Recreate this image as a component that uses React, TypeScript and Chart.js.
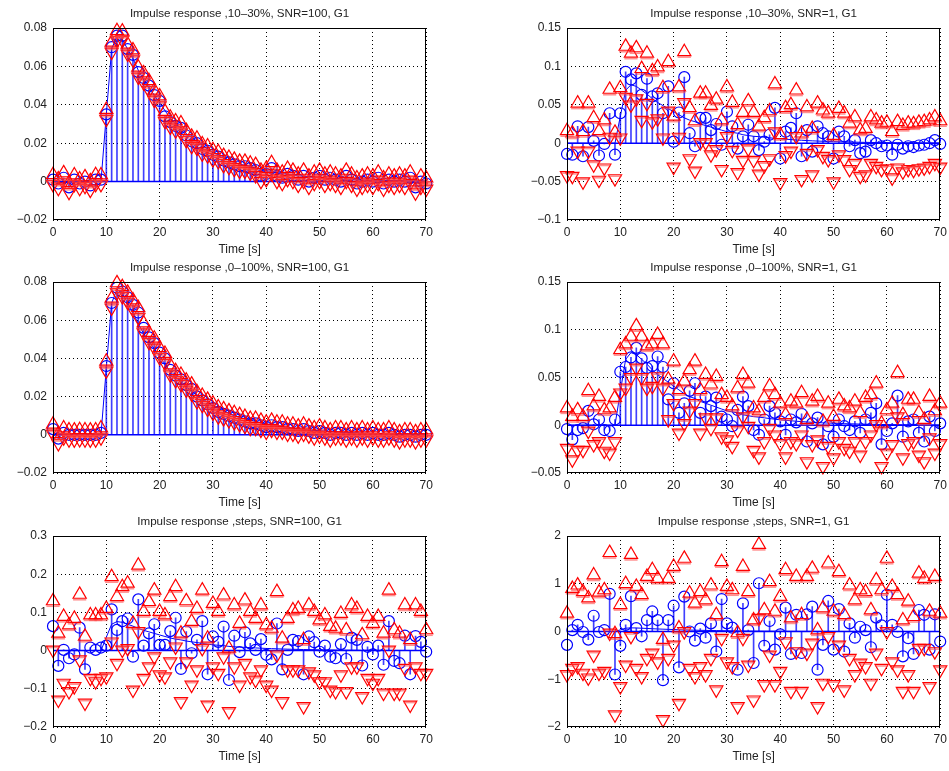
import React, { useEffect, useRef } from 'react';
import { Chart, registerables } from 'chart.js';

Chart.register(...registerables);

// ---------- data ----------
const times: number[] = Array.from({ length: 71 }, (_, i) => i);

// true (smooth) impulse response, same in every panel
const trueResp = [
  0, 0, 0, 0, 0, 0, 0, 0, 0, 0,
  0.035, 0.069, 0.076, 0.074, 0.069, 0.064, 0.058, 0.053, 0.049, 0.045,
  0.041, 0.037, 0.033, 0.030, 0.028, 0.025, 0.023, 0.021, 0.019, 0.017,
  0.015, 0.014, 0.013, 0.011, 0.010, 0.009, 0.0085, 0.0078, 0.007, 0.0063,
  0.0057, 0.0052, 0.0047, 0.0042, 0.0038, 0.0034, 0.0031, 0.0028, 0.0025, 0.0023,
  0.0021, 0.0019, 0.0017, 0.0015, 0.0014, 0.0012, 0.0011, 0.0010, 0.0009, 0.0008,
  0.0007, 0.0006, 0.0006, 0.0005, 0.0005, 0.0004, 0.0004, 0.0003, 0.0003, 0.0003,
  0.0002,
];

// Panel 1: 10-30%, SNR=100
const estTL = [
  0.001, -0.001, 0.002, -0.003, 0.001, -0.001, 0.000, -0.002, 0.001, 0.001,
  0.035, 0.070, 0.076, 0.076, 0.069, 0.066, 0.057, 0.054, 0.050, 0.045,
  0.042, 0.034, 0.031, 0.029, 0.028, 0.024, 0.021, 0.020, 0.017, 0.016,
  0.014, 0.013, 0.011, 0.010, 0.009, 0.008, 0.008, 0.007, 0.006, 0.003,
  0.004, 0.007, 0.003, 0.002, 0.004, 0.003, 0.001, 0.003, 0.000, 0.002,
  0.003, 0.001, 0.002, 0.001, 0.000, 0.003, 0.001, -0.001, 0.000, 0.001,
  0.000, 0.002, -0.001, 0.001, 0.000, 0.001, 0.000, 0.002, -0.003, 0.000,
  -0.001,
];
const upTL = [
  0.0035, 0.0013, 0.0045, -0.0005, 0.0034, 0.0013, 0.0024, 0.0003, 0.0035, 0.0034,
  0.0375, 0.0725, 0.0785, 0.0783, 0.0715, 0.0685, 0.0595, 0.0565, 0.0525, 0.0475,
  0.0445, 0.0365, 0.0335, 0.0315, 0.0305, 0.0265, 0.0235, 0.0225, 0.0195, 0.0185,
  0.0165, 0.0155, 0.0135, 0.0125, 0.0115, 0.0105, 0.0105, 0.0095, 0.0088, 0.0058,
  0.0068, 0.0098, 0.0058, 0.0048, 0.0068, 0.0058, 0.0038, 0.0058, 0.0028, 0.0048,
  0.0058, 0.0038, 0.0048, 0.0038, 0.0028, 0.0058, 0.0038, 0.0018, 0.0028, 0.0038,
  0.0028, 0.0048, 0.0018, 0.0038, 0.0028, 0.0038, 0.0028, 0.0048, -0.0002, 0.0028,
  0.0018,
];
const loTL = [
  -0.0014, -0.0034, -0.0005, -0.0055, -0.0014, -0.0034, -0.0024, -0.0044, -0.0014, -0.0014,
  0.0325, 0.0675, 0.0735, 0.0737, 0.0665, 0.0635, 0.0545, 0.0515, 0.0475, 0.0425,
  0.0395, 0.0315, 0.0285, 0.0265, 0.0255, 0.0215, 0.0185, 0.0175, 0.0145, 0.0135,
  0.0115, 0.0105, 0.0085, 0.0075, 0.0065, 0.0055, 0.0055, 0.0045, 0.0032, 0.0002,
  0.0012, 0.0042, 0.0002, -0.0008, 0.0012, 0.0002, -0.0018, 0.0002, -0.0028, -0.0008,
  0.0002, -0.0018, -0.0008, -0.0018, -0.0028, 0.0002, -0.0018, -0.0038, -0.0028, -0.0018,
  -0.0028, -0.0008, -0.0038, -0.0018, -0.0028, -0.0018, -0.0028, -0.0008, -0.0058, -0.0028,
  -0.0038,
];

// Panel 2: 10-30%, SNR=1
const estTR = [
  -0.014, -0.015, 0.022, -0.017, 0.021, 0.003, -0.016, -0.001, 0.039, -0.015,
  0.039, 0.093, 0.083, 0.091, 0.063, 0.084, 0.061, 0.065, 0.039, 0.074,
  0.002, 0.040, 0.086, 0.013, -0.004, 0.033, 0.033, 0.017, 0.025, -0.002,
  0.041, 0.022, -0.007, 0.009, 0.024, 0.009, -0.009, 0.002, 0.011, 0.046,
  -0.020, 0.015, 0.020, 0.039, -0.017, 0.017, -0.011, 0.022, 0.013, 0.009,
  -0.020, 0.015, 0.009, -0.004, 0.004, -0.013, -0.011, 0.004, 0.000, -0.004,
  -0.003, -0.015, -0.002, -0.007, -0.004, -0.005, -0.003, -0.002, 0.000, 0.004,
  -0.001,
];
const upTR = [
  0.016, 0.013, 0.052, 0.015, 0.052, 0.033, 0.016, 0.030, 0.070, 0.014,
  0.072, 0.126, 0.117, 0.124, 0.097, 0.117, 0.094, 0.099, 0.072, 0.106,
  0.035, 0.073, 0.119, 0.046, 0.029, 0.065, 0.065, 0.049, 0.057, 0.030,
  0.073, 0.053, 0.024, 0.040, 0.055, 0.040, 0.022, 0.033, 0.042, 0.077,
  0.011, 0.046, 0.050, 0.069, 0.013, 0.047, 0.019, 0.052, 0.043, 0.039,
  0.010, 0.045, 0.039, 0.026, 0.034, 0.017, 0.019, 0.034, 0.030, 0.026,
  0.027, 0.015, 0.028, 0.023, 0.026, 0.025, 0.027, 0.028, 0.030, 0.034,
  0.029,
];
const loTR = [
  -0.042, -0.043, -0.010, -0.050, -0.010, -0.028, -0.048, -0.032, 0.008, -0.046,
  0.007, 0.060, 0.050, 0.058, 0.030, 0.052, 0.028, 0.032, 0.007, 0.042,
  -0.031, 0.008, 0.053, -0.020, -0.036, 0.001, 0.001, -0.015, -0.008, -0.034,
  0.009, -0.009, -0.038, -0.022, -0.007, -0.022, -0.040, -0.029, -0.020, 0.015,
  -0.051, -0.016, -0.010, 0.009, -0.047, -0.013, -0.041, -0.008, -0.017, -0.021,
  -0.050, -0.015, -0.021, -0.034, -0.026, -0.043, -0.041, -0.026, -0.030, -0.034,
  -0.033, -0.045, -0.032, -0.037, -0.034, -0.035, -0.033, -0.032, -0.030, -0.026,
  -0.031,
];

// Panel 3: 0-100%, SNR=100
const estML = [
  0.003, -0.002, 0.001, 0.000, 0.000, 0.000, 0.000, 0.000, 0.000, 0.001,
  0.036, 0.069, 0.077, 0.075, 0.072, 0.068, 0.064, 0.056, 0.051, 0.048,
  0.043, 0.040, 0.034, 0.031, 0.029, 0.026, 0.024, 0.020, 0.018, 0.016,
  0.014, 0.012, 0.011, 0.010, 0.009, 0.008, 0.007, 0.006, 0.006, 0.005,
  0.004, 0.005, 0.004, 0.004, 0.003, 0.003, 0.002, 0.003, 0.002, 0.001,
  0.002, 0.001, 0.000, 0.001, 0.001, 0.000, 0.001, 0.000, 0.001, 0.000,
  0.001, 0.000, 0.000, 0.001, 0.000, -0.001, 0.000, 0.000, -0.001, 0.000,
  0.000,
];
const upML = [
  0.0055, 0.0005, 0.0035, 0.0025, 0.0024, 0.0026, 0.0025, 0.0024, 0.0025, 0.0035,
  0.0385, 0.0715, 0.0795, 0.0775, 0.0745, 0.0705, 0.0665, 0.0585, 0.0535, 0.0505,
  0.0455, 0.0425, 0.0365, 0.0335, 0.0315, 0.0285, 0.0265, 0.0225, 0.0205, 0.0185,
  0.0165, 0.0145, 0.0135, 0.0125, 0.0115, 0.0105, 0.0095, 0.0085, 0.0085, 0.0075,
  0.0065, 0.0075, 0.0065, 0.0065, 0.0055, 0.0055, 0.0045, 0.0055, 0.0045, 0.0035,
  0.0045, 0.0035, 0.0025, 0.0035, 0.0035, 0.0025, 0.0035, 0.0025, 0.0035, 0.0025,
  0.0035, 0.0025, 0.0025, 0.0035, 0.0025, 0.0015, 0.0025, 0.0025, 0.0015, 0.0025,
  0.0025,
];
const loML = [
  0.0005, -0.0045, -0.0015, -0.0025, -0.0026, -0.0024, -0.0025, -0.0026, -0.0025, -0.0015,
  0.0335, 0.0665, 0.0745, 0.0725, 0.0695, 0.0655, 0.0615, 0.0535, 0.0485, 0.0455,
  0.0405, 0.0375, 0.0315, 0.0285, 0.0265, 0.0235, 0.0215, 0.0175, 0.0155, 0.0135,
  0.0115, 0.0095, 0.0085, 0.0075, 0.0065, 0.0055, 0.0045, 0.0035, 0.0035, 0.0025,
  0.0015, 0.0025, 0.0015, 0.0015, 0.0005, 0.0005, -0.0005, 0.0005, -0.0005, -0.0015,
  -0.0005, -0.0015, -0.0025, -0.0015, -0.0015, -0.0025, -0.0015, -0.0025, -0.0015, -0.0025,
  -0.0015, -0.0025, -0.0025, -0.0015, -0.0025, -0.0035, -0.0025, -0.0025, -0.0035, -0.0025,
  -0.0025,
];

// Panel 4: 0-100%, SNR=1
const estMR = [
  -0.004, -0.015, -0.005, -0.003, 0.015, 0.001, 0.006, -0.005, -0.006, 0.006,
  0.056, 0.061, 0.071, 0.081, 0.070, 0.060, 0.062, 0.072, 0.061, 0.027,
  0.044, 0.013, 0.023, 0.036, 0.044, 0.013, 0.030, 0.020, 0.029, 0.009,
  0.006, -0.001, 0.016, 0.030, 0.020, -0.005, -0.010, 0.006, 0.020, 0.013,
  0.004, -0.010, 0.006, 0.003, 0.012, -0.017, 0.002, 0.008, -0.020, -0.001,
  -0.012, 0.006, -0.001, -0.005, 0.004, -0.008, 0.006, 0.013, 0.023, -0.020,
  -0.006, 0.002, 0.031, -0.012, 0.004, 0.006, -0.008, -0.017, 0.009, -0.006,
  0.002,
];
const upMR = [
  0.018, 0.009, 0.016, 0.009, 0.036, 0.020, 0.030, 0.016, 0.018, 0.029,
  0.079, 0.085, 0.093, 0.104, 0.093, 0.083, 0.085, 0.095, 0.085, 0.048,
  0.067, 0.037, 0.046, 0.058, 0.067, 0.037, 0.053, 0.043, 0.051, 0.032,
  0.029, 0.020, 0.039, 0.053, 0.044, 0.018, 0.015, 0.029, 0.041, 0.032,
  0.023, 0.011, 0.025, 0.023, 0.034, 0.006, 0.025, 0.030, 0.004, 0.023,
  0.009, 0.027, 0.020, 0.018, 0.025, 0.013, 0.029, 0.032, 0.044, 0.002,
  0.016, 0.023, 0.055, 0.011, 0.027, 0.027, 0.013, 0.006, 0.030, 0.015,
  0.023,
];
const loMR = [
  -0.024, -0.036, -0.026, -0.026, -0.006, -0.020, -0.017, -0.027, -0.029, -0.017,
  0.034, 0.039, 0.050, 0.060, 0.050, 0.039, 0.041, 0.051, 0.039, 0.006,
  0.023, -0.008, 0.002, 0.015, 0.023, -0.008, 0.008, -0.003, 0.008, -0.012,
  -0.015, -0.022, -0.005, 0.009, -0.001, -0.026, -0.033, -0.017, -0.003, -0.010,
  -0.019, -0.033, -0.017, -0.019, -0.010, -0.038, -0.020, -0.015, -0.043, -0.022,
  -0.034, -0.017, -0.024, -0.027, -0.017, -0.031, -0.017, -0.010, 0.001, -0.043,
  -0.029, -0.020, 0.009, -0.034, -0.019, -0.017, -0.031, -0.038, -0.013, -0.029,
  -0.019,
];

// Panel 5: steps, SNR=100
const estBL = [
  0.064, -0.040, 0.002, -0.020, -0.010, 0.060, -0.049, 0.008, 0.002, 0.008,
  0.013, 0.108, 0.054, 0.077, 0.084, -0.016, 0.134, 0.013, 0.045, 0.069,
  0.015, 0.015, 0.051, 0.086, -0.048, 0.050, -0.007, 0.028, 0.077, -0.062,
  0.037, 0.023, 0.063, -0.077, 0.039, -0.004, 0.048, 0.019, 0.002, 0.030,
  -0.011, -0.023, 0.071, -0.049, 0.002, 0.028, 0.025, -0.062, 0.037, 0.022,
  -0.003, 0.013, -0.016, -0.020, 0.017, -0.022, 0.034, 0.028, -0.039, 0.010,
  -0.010, 0.013, -0.037, 0.077, -0.027, -0.033, 0.039, -0.062, 0.038, 0.023,
  -0.003,
];
const upBL = [
  0.130, 0.045, 0.089, 0.067, 0.084, 0.147, 0.037, 0.093, 0.093, 0.093,
  0.110, 0.193, 0.141, 0.167, 0.176, 0.071, 0.223, 0.102, 0.128, 0.158,
  0.102, 0.093, 0.141, 0.167, 0.045, 0.130, 0.076, 0.110, 0.158, 0.032,
  0.123, 0.102, 0.145, 0.006, 0.119, 0.071, 0.132, 0.102, 0.084, 0.119,
  0.067, 0.058, 0.154, 0.032, 0.084, 0.106, 0.110, 0.028, 0.119, 0.102,
  0.080, 0.093, 0.063, 0.058, 0.097, 0.054, 0.119, 0.110, 0.041, 0.089,
  0.071, 0.089, 0.045, 0.158, 0.054, 0.045, 0.119, 0.028, 0.119, 0.102,
  0.054,
];
const loBL = [
  0.002, -0.129, -0.085, -0.107, -0.094, -0.024, -0.137, -0.072, -0.081, -0.072,
  -0.068, 0.023, -0.033, 0.002, 0.006, -0.103, 0.050, -0.072, -0.042, -0.016,
  -0.063, -0.068, -0.029, 0.010, -0.133, -0.029, -0.090, -0.050, 0.006, -0.142,
  -0.042, -0.059, -0.016, -0.159, -0.042, -0.090, -0.033, -0.068, -0.077, -0.050,
  -0.090, -0.103, -0.011, -0.133, -0.050, -0.050, -0.050, -0.146, -0.055, -0.063,
  -0.081, -0.081, -0.103, -0.107, -0.063, -0.107, -0.042, -0.042, -0.120, -0.072,
  -0.085, -0.072, -0.111, 0.002, -0.111, -0.111, -0.046, -0.142, -0.042, -0.059,
  -0.059,
];

// Panel 6: steps, SNR=1
const estBR = [
  -0.28, 0.03, 0.14, -0.01, -0.17, 0.33, -0.01, 0.03, 0.79, -0.90,
  -0.30, 0.14, 0.74, 0.07, -0.10, 0.24, 0.42, 0.24, -1.02, 0.24,
  0.54, -0.75, 0.73, 0.00, -0.19, 0.06, -0.13, 0.17, -0.42, 0.68,
  0.17, 0.08, -0.80, 0.59, 0.03, -0.66, 1.01, -0.30, 0.22, -0.38,
  -0.06, 0.50, -0.47, 0.35, -0.45, 0.36, 0.52, -0.80, -0.28, 0.64,
  -0.38, 0.47, -0.42, 0.17, -0.13, 0.10, 0.03, -0.33, 0.29, 0.13,
  0.77, 0.14, -0.01, -0.52, -0.14, -0.47, 0.45, 0.35, -0.38, 0.36,
  -0.21,
];
const upBR = [
  0.38, 0.90, 0.97, 0.83, 0.70, 1.18, 0.82, 0.87, 1.65, -0.05,
  0.56, 1.00, 1.61, 0.94, 0.77, 1.15, 1.29, 1.11, -0.17, 1.11,
  1.36, 0.07, 1.53, 0.80, 0.59, 0.83, 0.66, 0.97, 0.35, 1.46,
  0.94, 0.87, -0.03, 1.36, 0.83, 0.24, 1.82, 0.45, 1.04, 0.42,
  0.73, 1.29, 0.28, 1.15, 0.35, 1.15, 1.32, 0.03, 0.49, 1.43,
  0.42, 1.25, 0.35, 0.97, 0.66, 0.87, 0.83, 0.45, 1.08, 0.87,
  1.53, 0.94, 0.77, 0.24, 0.63, 0.31, 1.22, 1.11, 0.42, 1.15,
  0.38,
];
const loBR = [
  -0.90, -0.77, -0.73, -0.87, -0.97, -0.49, -0.87, -0.83, -0.03, -1.74,
  -1.15, -0.70, -0.10, -0.77, -0.94, -0.56, -0.45, -0.63, -1.84, -0.56,
  -0.28, -1.50, 0.00, -0.77, -0.94, -0.73, -0.90, -0.56, -1.22, -0.14,
  -0.63, -0.73, -1.57, -0.14, -0.70, -1.43, 0.28, -1.11, -0.49, -1.11,
  -0.83, -0.21, -1.25, -0.42, -1.25, -0.45, -0.24, -1.57, -1.08, -0.10,
  -1.11, -0.28, -1.22, -0.56, -0.90, -0.66, -0.73, -1.08, -0.45, -0.77,
  0.00, -0.63, -0.80, -1.25, -0.90, -1.25, -0.35, -0.35, -1.15, -0.42,
  -0.80,
];

const titles = [
  'Impulse response ,10\u201330%, SNR=100, G1',
  'Impulse response ,10\u201330%, SNR=1, G1',
  'Impulse response ,0\u2013100%, SNR=100, G1',
  'Impulse response ,0\u2013100%, SNR=1, G1',
  'Impulse response ,steps, SNR=100, G1',
  'Impulse response ,steps, SNR=1, G1',
];
const yRanges: [number, number, number][] = [
  [-0.02, 0.08, 0.02],
  [-0.1, 0.15, 0.05],
  [-0.02, 0.08, 0.02],
  [-0.05, 0.15, 0.05],
  [-0.2, 0.3, 0.1],
  [-2, 2, 1],
];
const xLabel = 'Time [s]';

// ---------- layout (plot-area rectangles in page pixels) ----------
const plotRects = [
  { left: 53, top: 28, right: 428, bottom: 220 },
  { left: 567, top: 28, right: 942, bottom: 220 },
  { left: 53, top: 282, right: 428, bottom: 473 },
  { left: 567, top: 282, right: 942, bottom: 473 },
  { left: 53, top: 536, right: 428, bottom: 727 },
  { left: 567, top: 536, right: 942, bottom: 727 },
];
const Y_AXIS_W = 53;
const TOP_PAD = 28;
const X_AXIS_H = 37;
const RIGHT_PAD = 7;

const FONT = '"Liberation Sans", Arial, Helvetica, sans-serif';
const TEXT = '#222222';

const fmt = (v: number) => {
  const s = String(Number(v.toFixed(4)));
  return s.replace('-', '\u2212');
};

const markerBars = {
  id: 'markerBars',
  afterDatasetsDraw(chart: any) {
    const ctx = chart.ctx;
    chart.data.datasets.forEach((ds: any, i: number) => {
      if (!ds.baseBar) return;
      const meta = chart.getDatasetMeta(i);
      const r = ds.pointRadius;
      const half = (r * Math.sqrt(3)) / 2;
      ctx.save();
      ctx.strokeStyle = 'rgba(255,70,70,0.6)';
      ctx.lineWidth = 1.6;
      meta.data.forEach((el: any) => {
        const y = ds.baseBar === 'up' ? el.y + r / 2 + 1.5 : el.y - r / 2 + 1.5;
        ctx.beginPath();
        ctx.moveTo(el.x - half, y);
        ctx.lineTo(el.x + half, y);
        ctx.stroke();
      });
      ctx.restore();
    });
  },
};

const frameAndTitle = {
  id: 'frameAndTitle',
  afterDraw(chart: any, _args: any, opts: any) {
    const { left, top, right, bottom } = chart.chartArea;
    const ctx = chart.ctx;
    ctx.save();
    ctx.strokeStyle = '#000';
    ctx.lineWidth = 1;
    ctx.strokeRect(Math.round(left) + 0.5, Math.round(top) + 0.5, Math.round(right - left) - 1, Math.round(bottom - top) - 1);
    ctx.font = `11.6px ${FONT}`;
    ctx.fillStyle = TEXT;
    ctx.textAlign = 'center';
    ctx.textBaseline = 'middle';
    ctx.fillText(opts.text, (left + right) / 2, top - 14);
    ctx.restore();
  },
};

function pts(vals: number[]) {
  return times.map((t, i) => ({ x: t, y: vals[i] }));
}

function Panel({ idx, est, up, lo }: { idx: number; est: number[]; up: number[]; lo: number[] }) {
  const ref = useRef<HTMLCanvasElement>(null);
  const rect = plotRects[idx];
  const cLeft = rect.left - Y_AXIS_W;
  const cTop = rect.top - TOP_PAD;
  const cW = rect.right - rect.left + Y_AXIS_W + RIGHT_PAD;
  const cH = rect.bottom - rect.top + TOP_PAD + X_AXIS_H;
  const [yMin, yMax, yStep] = yRanges[idx];

  useEffect(() => {
    const canvas = ref.current!;
    const chart = new Chart(canvas, {
      type: 'line',
      data: {
        datasets: [
          {
            label: 'upper',
            data: pts(up),
            showLine: false,
            pointStyle: 'triangle',
            pointRadius: 7.6,
            pointBorderColor: '#ff0000',
            pointBackgroundColor: 'rgba(0,0,0,0)',
            pointBorderWidth: 1.2,
            clip: false,
            baseBar: 'up',
          } as any,
          {
            label: 'lower',
            data: pts(lo),
            showLine: false,
            pointStyle: 'triangle',
            pointRotation: 180,
            pointRadius: 7.6,
            pointBorderColor: '#ff0000',
            pointBackgroundColor: 'rgba(0,0,0,0)',
            pointBorderWidth: 1.2,
            clip: false,
            baseBar: 'down',
          } as any,
          {
            label: 'estimate',
            data: pts(est),
            showLine: false,
            pointStyle: 'circle',
            pointRadius: 5.5,
            pointBorderColor: '#0000ff',
            pointBackgroundColor: 'rgba(0,0,0,0)',
            pointBorderWidth: 1.2,
            clip: false,
          },
          {
            label: 'true',
            data: pts(trueResp),
            borderColor: '#0000ff',
            borderWidth: 1,
            pointRadius: 0,
            tension: 0,
            clip: false,
          },
          {
            type: 'bar',
            label: 'stems',
            data: pts(est),
            backgroundColor: 'rgba(0,0,255,0.75)',
            borderWidth: 0,
            barThickness: 1,
            grouped: false,
          } as any,
          {
            label: 'baseline',
            data: [
              { x: times[0], y: 0 },
              { x: times[times.length - 1], y: 0 },
            ],
            borderColor: '#0000ff',
            borderWidth: 1.5,
            pointRadius: 0,
          },
        ],
      },
      options: {
        responsive: false,
        animation: false,
        events: [],
        layout: { padding: { left: 0, right: RIGHT_PAD, top: TOP_PAD, bottom: 0 } },
        plugins: {
          legend: { display: false },
          tooltip: { enabled: false },
          frameAndTitle: { text: titles[idx] },
        } as any,
        scales: {
          x: {
            type: 'linear',
            min: 0,
            max: 70,
            offset: false,
            afterFit: (s: any) => {
              s.height = X_AXIS_H;
              s.paddingLeft = 0;
              s.paddingRight = 0;
            },
            ticks: {
              stepSize: 10,
              autoSkip: false,
              maxRotation: 0,
              padding: 5,
              color: TEXT,
              font: { family: FONT, size: 12 },
              callback: (v: any) => fmt(Number(v)),
            },
            grid: { color: '#000', lineWidth: 1, drawTicks: false, offset: false },
            border: { display: false, dash: [1, 3] },
            title: {
              display: true,
              text: xLabel,
              color: TEXT,
              font: { family: FONT, size: 12 },
              padding: { top: 0, bottom: 0 },
            },
          },
          y: {
            type: 'linear',
            min: yMin,
            max: yMax,
            afterFit: (s: any) => {
              s.width = Y_AXIS_W;
              s.paddingTop = 0;
              s.paddingBottom = 0;
            },
            ticks: {
              stepSize: yStep,
              autoSkip: false,
              padding: 6,
              color: TEXT,
              font: { family: FONT, size: 12 },
              callback: (v: any) => fmt(Number(v)),
            },
            grid: { color: '#000', lineWidth: 1, drawTicks: false },
            border: { display: false, dash: [1, 3] },
          },
        },
      },
      plugins: [markerBars, frameAndTitle],
    });
    return () => chart.destroy();
  }, [idx, est, up, lo]);

  return (
    <div style={{ position: 'absolute', left: cLeft, top: cTop, width: cW, height: cH }}>
      <canvas ref={ref} width={cW} height={cH} style={{ display: 'block', width: cW, height: cH }} />
    </div>
  );
}

export default function App() {
  return (
    <div style={{ position: 'absolute', left: 0, top: 0, width: 949, height: 771, background: '#fff' }}>
      <Panel idx={0} est={estTL} up={upTL} lo={loTL} />
      <Panel idx={1} est={estTR} up={upTR} lo={loTR} />
      <Panel idx={2} est={estML} up={upML} lo={loML} />
      <Panel idx={3} est={estMR} up={upMR} lo={loMR} />
      <Panel idx={4} est={estBL} up={upBL} lo={loBL} />
      <Panel idx={5} est={estBR} up={upBR} lo={loBR} />
    </div>
  );
}
